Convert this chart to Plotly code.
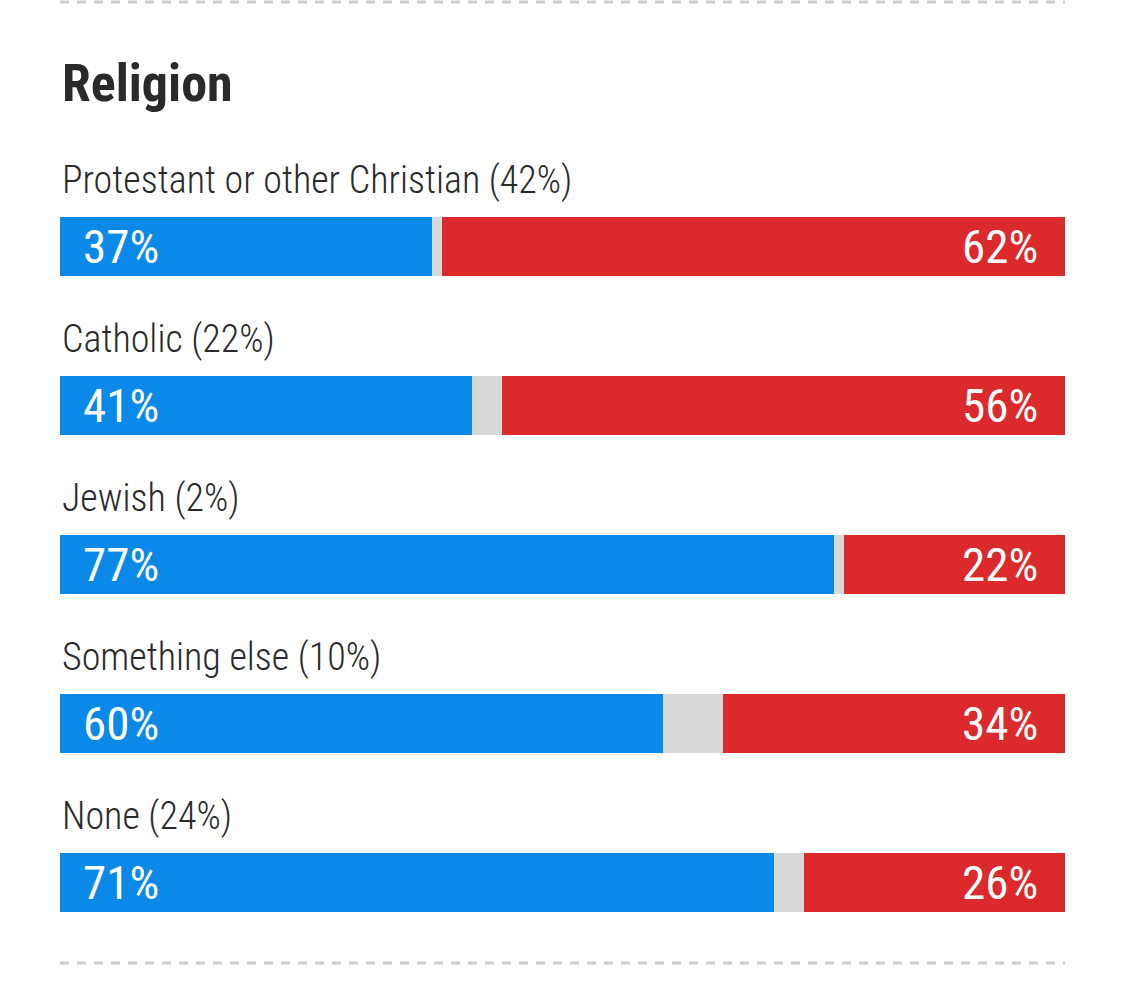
import plotly.graph_objects as go

title = "Religion"
categories = ["Protestant or other Christian (42%)", "Catholic (22%)", "Jewish (2%)",
              "Something else (10%)", "None (24%)"]
dem = [37, 41, 77, 60, 71]
other = [1, 3, 1, 6, 3]
rep = [62, 56, 22, 34, 26]

BLUE = "#0a89e8"
RED = "#dc292b"
GRAY = "#d8d8d8"
TXT = "#2a2a2a"
FONT = "Roboto Condensed, Liberation Sans Narrow, DejaVu Sans Condensed, Roboto, sans-serif"

W, H = 1125, 996
first_center = 246.5
row_step = 159.0
bar_px = 59.0
rows = list(range(len(categories)))

y_top = -first_center / row_step
y_bot = (H - first_center) / row_step

fig = go.Figure()
for vals, color, name in [(dem, BLUE, "Dem"), (other, GRAY, "Other"), (rep, RED, "Rep")]:
    fig.add_trace(go.Bar(
        x=vals, y=rows, orientation="h", marker=dict(color=color, line=dict(width=0)),
        width=bar_px / row_step, name=name, hoverinfo="skip", showlegend=False))

annotations = []
annotations.append(dict(text=f"<b>{title}</b>", x=0, xref="paper", xanchor="left",
                        y=(83 - first_center) / row_step, yref="y", yanchor="middle",
                        showarrow=False, font=dict(family=FONT, size=52, color=TXT)))
for i, cat in enumerate(categories):
    annotations.append(dict(text=cat, x=0, xref="paper", xanchor="left",
                            y=i - 67 / row_step, yref="y", yanchor="middle",
                            showarrow=False,
                            font=dict(family=FONT, size=38, color=TXT, weight=300)))
    annotations.append(dict(text=f"{dem[i]}%", x=0, xref="x", xanchor="left", xshift=21,
                            y=i, yref="y", yanchor="middle",
                            showarrow=False, font=dict(family=FONT, size=47, color="white")))
    annotations.append(dict(text=f"{rep[i]}%", x=100, xref="x", xanchor="right", xshift=-25,
                            y=i, yref="y", yanchor="middle",
                            showarrow=False, font=dict(family=FONT, size=47, color="white")))

shapes = []
for py in [2, 963]:
    shapes.append(dict(type="line", xref="paper", x0=0, x1=1, yref="paper",
                       y0=1 - py / H, y1=1 - py / H,
                       line=dict(color="#cccccc", width=3, dash="9px,8px")))

fig.update_layout(
    width=W, height=H, barmode="stack",
    margin=dict(l=60, r=60, t=0, b=0),
    paper_bgcolor="white", plot_bgcolor="white",
    xaxis=dict(range=[0, 100], visible=False, fixedrange=True),
    yaxis=dict(range=[y_bot, y_top], visible=False, fixedrange=True),
    annotations=annotations, shapes=shapes,
)

fig.write_html("out.html")
